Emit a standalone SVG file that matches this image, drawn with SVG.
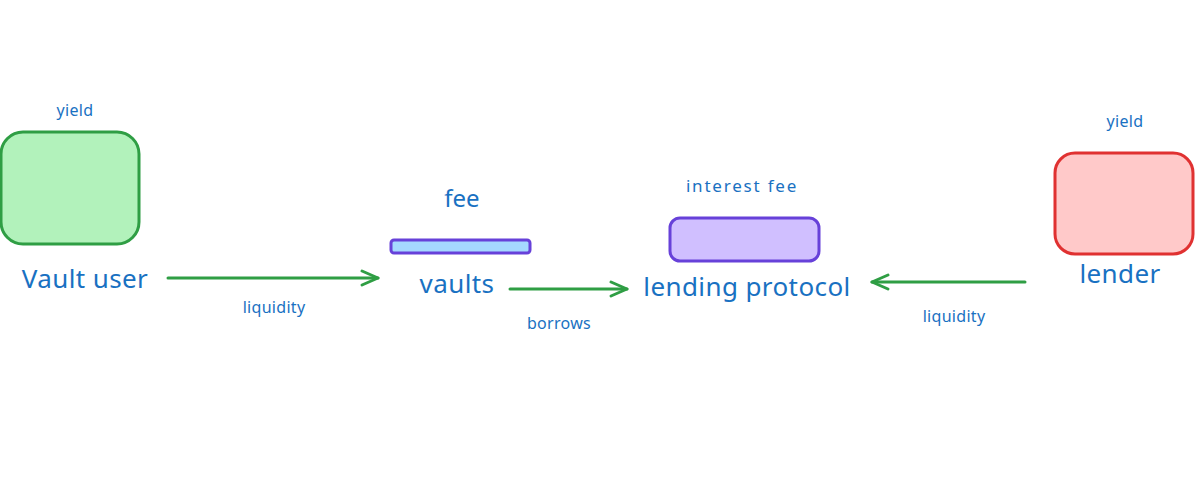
<svg xmlns="http://www.w3.org/2000/svg" width="1200" height="480" viewBox="0 0 1200 480">
<defs>
<style>
.t{font-family:"Noto Sans","Open Sans",sans-serif;fill:#1971c2;text-anchor:middle}
.s{font-size:16px;letter-spacing:0.3px}
.w{font-size:17px;letter-spacing:1.8px}
.m{font-size:24px}
.l{font-size:26px;letter-spacing:0.4px}
.c{stroke:#2f9e44;stroke-width:3;fill:none;stroke-linecap:round;stroke-linejoin:round}
</style>
<marker id="ah" viewBox="0 0 20 20" refX="18" refY="10" markerWidth="20" markerHeight="20" markerUnits="userSpaceOnUse" orient="auto">
<path d="M2 3 L18 10 L2 17" fill="none" stroke="#2f9e44" stroke-width="3" stroke-linecap="round" stroke-linejoin="round"/>
</marker>
</defs>
<rect width="1200" height="480" fill="#ffffff"/>
<g id="vault-user">
<rect x="1" y="132" width="138" height="112" rx="22" fill="#b2f2bb" stroke="#2f9e44" stroke-width="3"/>
<text class="t s" x="75" y="116">yield</text>
<text class="t l" x="85" y="288">Vault user</text>
</g>
<g id="vaults">
<rect x="391" y="240" width="139" height="13" rx="3" fill="#a5d8ff" stroke="#6741d9" stroke-width="3"/>
<text class="t m" x="462" y="207">fee</text>
<text class="t l" x="457" y="293">vaults</text>
</g>
<g id="lending-protocol">
<rect x="670" y="218" width="149" height="43" rx="10" fill="#d0bfff" stroke="#6741d9" stroke-width="3"/>
<text class="t w" x="742" y="192">interest fee</text>
<text class="t l" x="747" y="296">lending protocol</text>
</g>
<g id="lender">
<rect x="1055" y="153" width="138" height="101" rx="20" fill="#ffc9c9" stroke="#e03131" stroke-width="3"/>
<text class="t s" x="1125" y="127">yield</text>
<text class="t l" x="1120" y="283">lender</text>
</g>
<g id="connectors">
<path class="c" d="M168 278 L378 278" marker-end="url(#ah)"/>
<path class="c" d="M510 289 L627 289" marker-end="url(#ah)"/>
<path class="c" d="M1025 282 L872 282" marker-end="url(#ah)"/>
<text class="t s" x="274" y="313">liquidity</text>
<text class="t s" x="559" y="329">borrows</text>
<text class="t s" x="954" y="322">liquidity</text>
</g>
</svg>
